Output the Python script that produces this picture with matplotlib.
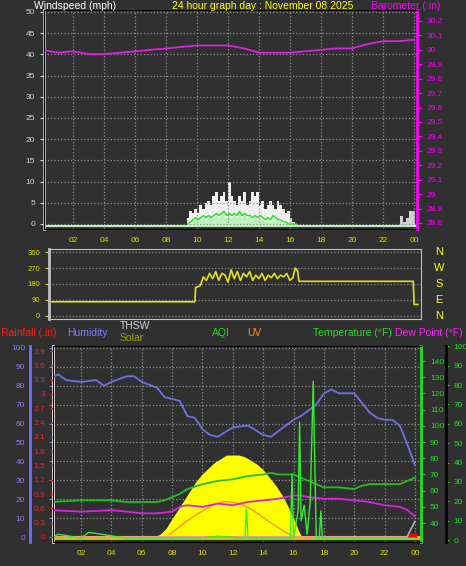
import matplotlib
matplotlib.use("Agg")
import matplotlib.pyplot as plt
import numpy as np

plt.rcParams["font.family"] = ["Liberation Sans", "DejaVu Sans"]
BG = "#303030"
W, H = 466, 566

# ---- top panel: wind + barometer ----
baro_hours = [0, 1, 2, 3, 4, 5, 6, 7, 8, 9, 10, 11, 12, 13, 14, 15, 16, 17, 18, 19, 20, 21, 22, 23, 24]
baro = [30.0, 29.98, 29.99, 29.97, 29.97, 29.98, 29.99, 30.0, 30.01, 30.02, 30.03, 30.03, 30.03, 30.01,
        29.98, 29.98, 29.98, 29.99, 30.0, 30.01, 30.01, 30.04, 30.06, 30.06, 30.07]

wind_hours = [9.4, 9.57, 9.73, 9.9, 10.07, 10.23, 10.4, 10.57, 10.73, 10.9, 11.07, 11.23, 11.4, 11.57,
              11.73, 11.9, 12.07, 12.23, 12.4, 12.57, 12.73, 12.9, 13.07, 13.23, 13.4, 13.57, 13.73,
              13.9, 14.07, 14.23, 14.4, 14.57, 14.73, 14.9, 15.07, 15.23, 15.4, 15.57, 15.73, 15.9,
              16.07, 16.23, 16.4]
gust = [2, 3.5, 3, 4, 3, 5, 4, 5.5, 6, 5, 7, 8, 6, 7, 8, 6, 10.5, 7, 6, 5, 7, 6, 8, 5, 6, 8, 7,
        8, 5, 6, 4, 5, 6, 5, 4, 6, 5, 4, 3, 3.5, 2, 1, 0.5]
avg = [0, 0.5, 1, 1.5, 1, 1.5, 2, 1.5, 2, 1.5, 2, 2.5, 2, 2.5, 3, 2, 2.5, 2, 2.5, 2, 3, 2, 2.5,
       2, 2, 1.5, 2, 1.5, 2, 1.5, 1, 1.5, 1, 2, 1.5, 1, 1, 0.5, 0.5, 0, 0, 0, 0]
late_hours = [0.0, 0.2, 23.2, 23.4, 23.6, 23.8, 24.0]
late_gust = [3.5, 0, 2.5, 1, 2, 3.5, 3.5]

# ---- middle panel: wind direction ----
dir_hours = [0, 9.55, 9.6, 9.9, 10.1, 10.3, 10.5, 10.7, 10.9, 11.1, 11.3, 11.5, 11.7, 11.9, 12.1, 12.3,
             12.5, 12.7, 12.9, 13.1, 13.3, 13.5, 13.7, 13.9, 14.1, 14.3, 14.5, 14.7, 14.9, 15.1, 15.3,
             15.5, 15.7, 15.9, 16.05, 16.2, 16.3, 23.7, 23.75, 24]
direction = [80, 80, 160, 170, 220, 200, 240, 210, 250, 200, 240, 230, 190, 260, 210, 250, 200, 240,
             220, 250, 200, 230, 210, 240, 200, 230, 215, 240, 210, 230, 220, 240, 200, 215, 270, 255,
             195, 195, 65, 65]

# ---- bottom panel ----
hum_hours = [0, 0.5, 1, 2, 3, 3.5, 4, 5, 5.5, 6, 7, 7.5, 8, 8.5, 9, 9.5, 10, 10.5, 11, 12, 13, 14,
             14.5, 15, 16, 16.5, 17, 17.5, 18, 18.5, 19, 20, 20.5, 21, 21.5, 22, 22.5, 23, 23.5, 24]
humidity = [84, 86, 83, 82, 83, 80, 82, 85, 85, 82, 79, 74, 73, 72, 64, 63, 57, 54, 53, 58, 59, 54,
            53, 56, 62, 64, 67, 70, 76, 78, 76, 76, 71, 66, 63, 62, 62, 59, 49, 38]
temp_hours = [0, 2, 3, 4, 5, 6, 7, 7.5, 8, 8.5, 9, 10, 11, 12, 13, 14, 14.5, 15, 16, 16.5, 17, 17.5,
              18, 19, 20, 20.5, 21, 22, 23, 24]
temp = [53, 54, 54, 54, 53, 53, 53, 54, 56, 58, 61, 64, 66, 67, 69, 70, 71, 70, 70, 68, 66, 64, 62,
        62, 61, 63, 64, 64, 64, 68]
dew_hours = [0, 2, 4, 6, 7, 8, 8.5, 9, 10, 11, 12, 13, 14, 15, 16, 16.5, 17, 18, 19, 20, 21, 22,
             23, 23.5, 24]
dew = [48, 47, 48, 46, 46, 47, 50, 51, 50, 52, 51, 53, 54, 55, 57, 57, 56, 55, 55, 54, 53, 51,
       50, 48, 44]
solar_hours = [6.8, 7.2, 7.6, 8.0, 8.4, 8.8, 9.2, 9.6, 10.0, 10.4, 10.8, 11.2, 11.6, 12.0, 12.4,
               12.8, 13.2, 13.6, 14.0, 14.4, 14.8, 15.2, 15.6, 16.0, 16.3, 16.5]
solar = [0, 1, 4, 9, 14, 19, 24, 29, 33, 36, 39, 41, 43, 43, 43, 42, 40, 38, 35, 31, 27, 22, 16,
         9, 3, 0]
uv_hours = [7.8, 8.4, 9, 9.6, 10.2, 10.8, 11.4, 12, 12.6, 13.2, 13.8, 14.4, 15, 15.6, 16.1]
uv = [0.05, 0.2, 0.35, 0.48, 0.6, 0.7, 0.76, 0.75, 0.7, 0.6, 0.47, 0.33, 0.2, 0.08, 0]
aqi_hours = [0, 0.5, 2, 2.5, 5, 8, 10, 11, 12.8, 12.9, 13.0, 15.8, 15.9, 16.0, 16.3, 16.4, 16.5,
             16.7, 16.9, 17.1, 17.3, 17.4, 17.5, 17.7, 17.8, 17.9, 18.1, 20, 22, 24]
aqi = [1, 3, 1, 4, 1, 1, 1, 2, 1, 16, 1, 1, 34, 1, 15, 61, 10, 18, 3, 20, 82, 40, 1, 1, 15, 1, 1,
       1, 1, 1]
thsw_hours = [23.4, 24.0]
thsw = [30, 41]
rain_hours = [23.7, 24.0]
rain = [0.02, 0.02]

tick_hours = list(range(2, 25, 2))
tick_labels = [f"{h % 24:02d}" for h in tick_hours]


def rect(l, t, r, b):
    return [l / W, 1 - b / H, (r - l) / W, (b - t) / H]


def style(ax, xlim):
    ax.set_facecolor(BG)
    ax.set_xlim(*xlim)
    ax.set_xticks(tick_hours)
    ax.set_xticklabels(tick_labels, color="#e0e000", fontsize=6)
    ax.grid(True, color="#909090", linestyle=":", linewidth=0.9)
    for s in ax.spines.values():
        s.set_color("#c0c0c0")
    ax.spines["left"].set_linewidth(2)
    ax.tick_params(axis="x", length=0, pad=6)
    ax.tick_params(axis="y", labelsize=6, length=3)


fig = plt.figure(figsize=(W / 100, H / 100), dpi=100, facecolor=BG)

# top
ax1 = fig.add_axes(rect(44, 10, 417, 229))
style(ax1, (0.1, 24.2))
ax1.set_ylim(-1.18, 50.47)
ax1.set_yticks(range(0, 51, 5))
ax1.tick_params(axis="y", colors="#c8d8f0")
for h, g, a in zip(wind_hours, gust, avg):
    ax1.bar(h, g, width=0.17, color="#f0f0f0", bottom=-0.5)
    ax1.bar(h, a, width=0.17, color="#c0f0c0", bottom=-0.5)
ax1.bar(late_hours, late_gust, width=0.2, color="#d0d0d0", bottom=-0.5)
ax1.plot(wind_hours, avg, color="#20e020", linewidth=1)
ax1.axhline(-0.5, color="#c0f0c0", linewidth=1.5)
ax1b = ax1.twinx()
ax1b.set_ylim(28.758, 30.276)
ax1b.set_yticks(np.round(np.arange(28.8, 30.21, 0.1), 1))
ax1b.set_yticklabels([f"{v:g}" for v in np.round(np.arange(28.8, 30.21, 0.1), 1)])
ax1b.tick_params(axis="y", colors="#ff00ff", labelsize=6)
ax1b.spines["right"].set_color("#ff00ff")
ax1b.spines["right"].set_linewidth(2)
ax1b.plot(baro_hours, baro, color="#e020e0", linewidth=1.3)

fig.text(34 / W, 1 - 6 / H, "Windspeed (mph)", color="white", fontsize=7.5, va="center")
fig.text(172 / W, 1 - 6 / H, "24 hour graph day : November 08 2025", color="#ffff00",
         fontsize=7.5, va="center")
fig.text(440 / W, 1 - 6 / H, "Barometer (.in)", color="#ff00ff", fontsize=7.5,
         va="center", ha="right")

# middle
ax2 = fig.add_axes(rect(49, 249, 421, 319))
style(ax2, (0.1, 24.2))
ax2.set_ylim(-17, 377)
ax2.set_yticks([0, 90, 180, 270, 360])
ax2.tick_params(axis="y", colors="#e0e000", labelsize=5.5)
ax2.grid(False, axis="x")
ax2.set_xticklabels([])
ax2.plot(dir_hours, direction, color="#e0e020", linewidth=1.2)
for lab, v in zip(["N", "W", "S", "E", "N"], [360, 270, 180, 90, 0]):
    y = 316 - v * 64 / 360
    fig.text(439 / W, 1 - y / H, lab, color="#ffff00", fontsize=8, ha="center", va="center")

# legend row
legend_items = [(1, 333, "Rainfall (.in)", "#ff2020"), (67, 333, "Humidity", "#8080ff"),
                (120, 326, "THSW", "#d0d0d0"), (120, 338, "Solar", "#a0a000"),
                (212, 333, "AQI", "#20e020"), (247, 333, "UV", "#ff9020"),
                (313, 333, "Temperature (°F)", "#20e020"), (395, 333, "Dew Point (°F)", "#ff20ff")]
for x, y, t, c in legend_items:
    fig.text(x / W, 1 - y / H, t, color=c, fontsize=7.5, va="center")

# bottom
ax3 = fig.add_axes(rect(53, 346, 421, 542))
style(ax3, (0.15, 24.4))
ax3.set_ylim(-2.6, 101)
ax3.set_yticks(range(0, 101, 10))
ax3.tick_params(axis="y", colors="#8080ff", pad=17)
ax3.spines["left"].set_color("white")
ax3.fill_between(solar_hours, 0, solar, color="#ffff00", zorder=2)
uv_scaled = [u / 3.9 * 100 * 0.96 for u in uv]
ax3.plot(uv_hours, uv_scaled, color="#ff9020", linewidth=1, zorder=3)
ax3.plot(hum_hours, humidity, color="#7070e0", linewidth=1.3, zorder=4)
ax3.axhline(0, color="#ff9090", linewidth=1.5, zorder=3)
ax3.axhline(-1.2, color="#e0e000", linewidth=1.2, zorder=3)

axh = ax3.twinx()
axh.set_ylim(-2.6, 101)
axh.yaxis.set_ticks_position("left")
axh.spines["left"].set_position(("outward", 16.6))
axh.spines["left"].set_color("#7070ff")
axh.spines["left"].set_linewidth(2)
axh.spines["right"].set_visible(False)
axh.set_yticks([])

axr = ax3.twinx()
axr.set_ylim(-0.105, 4.005)
axr.yaxis.set_ticks_position("left")
axr.yaxis.set_label_position("left")
axr.set_yticks(np.round(np.arange(0, 3.91, 0.3), 1))
axr.set_yticklabels([f"{v:g}" for v in np.round(np.arange(0, 3.91, 0.3), 1)])
axr.tick_params(axis="y", colors="#ff2020", labelsize=6, length=2)
axr.spines["left"].set_color("#ff4040")
axr.spines["left"].set_linestyle(":")
axr.spines["right"].set_visible(False)
axr.plot(rain_hours, rain, color="#ff0000", linewidth=3)

axt = ax3.twinx()
axt.set_ylim(28.3, 149.3)
axt.set_yticks(range(40, 141, 10))
axt.tick_params(axis="y", colors="#20e020", labelsize=6, length=3)
axt.spines["right"].set_color("#20e020")
axt.spines["right"].set_linewidth(2)
axt.plot(temp_hours, temp, color="#20c020", linewidth=1.3)
axt.plot(dew_hours, dew, color="#e020e0", linewidth=1.3)
axt.plot(thsw_hours, thsw, color="#b0b0b0", linewidth=1.2)

axa = ax3.twinx()
axa.set_ylim(-1.0, 100.2)
axa.set_yticks(range(0, 101, 10))
axa.spines["right"].set_position(("outward", 18))
axa.spines["right"].set_color("#000000")
axa.spines["right"].set_linewidth(2)
axa.tick_params(axis="y", colors="#20e020", labelsize=6, length=2)
axa.plot(aqi_hours, aqi, color="#30f030", linewidth=1)

fig.savefig("out.png", dpi=100, facecolor=BG)
